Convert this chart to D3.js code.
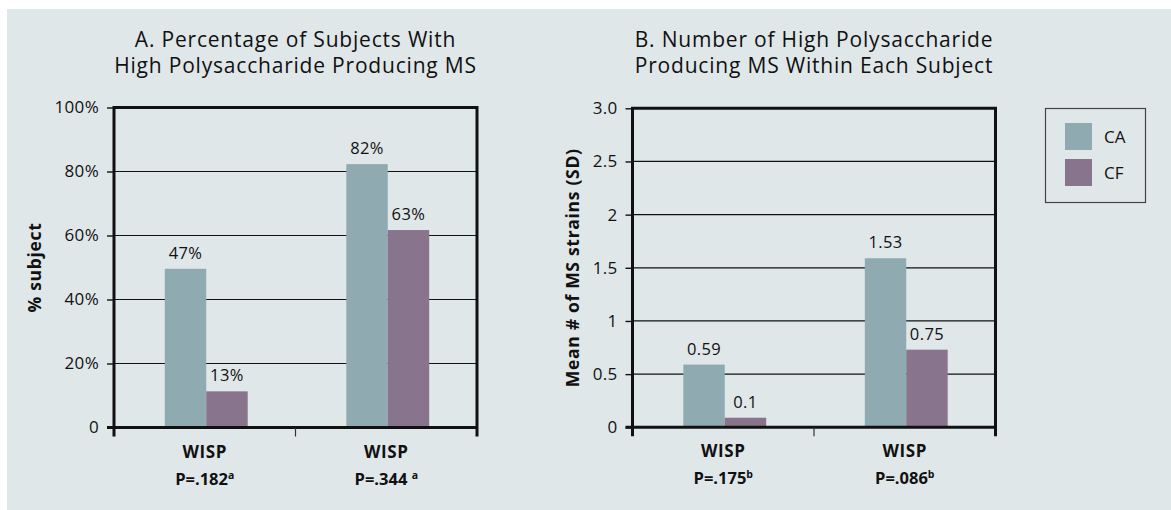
<!DOCTYPE html>
<html><head><meta charset="utf-8">
<script src="https://cdn.jsdelivr.net/npm/d3@7"></script>
<style>
html,body{margin:0;padding:0;background:#fff;}
svg{display:block;}
text{font-family:"Open Sans", Lato, sans-serif;fill:#111;}
</style></head>
<body>
<svg id="c" width="1171" height="510"></svg>
<script>
// ---- data ----
const seriesNames = ["CA", "CF"];
const seriesColors = ["#8fabb1", "#88748c"];
const groupKeys = ["g1", "g2"];
const groupLabels = ["WISP", "WISP"];

const titleA = ["A. Percentage of Subjects With", "High Polysaccharide Producing MS"];
const yTitleA = "% subject";
const yTicksA = [0, 20, 40, 60, 80, 100];
const yTickLabelsA = ["0", "20%", "40%", "60%", "80%", "100%"];
const caA = [49.6, 82.3];
const cfA = [11.3, 61.7];
const caLabelsA = ["47%", "82%"];
const cfLabelsA = ["13%", "63%"];
const pTextA = ["P=.182", "P=.344 "];
const pSupA = ["a", "a"];

const titleB = ["B. Number of High Polysaccharide", "Producing MS Within Each Subject"];
const yTitleB = "Mean # of MS strains (SD)";
const yTicksB = [0, 0.5, 1, 1.5, 2, 2.5, 3];
const yTickLabelsB = ["0", "0.5", "1", "1.5", "2", "2.5", "3.0"];
const caB = [0.59, 1.59];
const cfB = [0.09, 0.73];
const caLabelsB = ["0.59", "1.53"];
const cfLabelsB = ["0.1", "0.75"];
const pTextB = ["P=.175", "P=.086"];
const pSupB = ["b", "b"];

// ---- drawing ----
const svg = d3.select("#c");
svg.append("rect").attr("x", 7).attr("y", 9).attr("width", 1164).attr("height", 501).attr("fill", "#e0e7e9");

const FS = 16.5;

function panel(opt) {
  const {x0, x1, yTop, yBot, domainMax, ticks, tickLabels, ca, cf, caL, cfL, title, yTitle, yTitleX, pText, pSup} = opt;
  const g = svg.append("g");
  const x = d3.scaleBand().domain(groupKeys).range([x0, x1]).paddingInner(0).paddingOuter(0);
  const y = d3.scaleLinear().domain([0, domainMax]).range([yBot, yTop]);
  const xs = d3.scaleBand().domain(seriesNames).range([0, x.bandwidth()]).paddingInner(0).paddingOuter(1.19);

  // grid
  g.append("g").selectAll("line").data(ticks.filter(t => t > 0 && t < domainMax)).join("line")
    .attr("x1", x0).attr("x2", x1).attr("y1", d => y(d)).attr("y2", d => y(d))
    .attr("stroke", "#111").attr("stroke-width", 1.2);

  // bars
  const rows = groupKeys.map((k, i) => ({k, i, vals: [ca[i], cf[i]], labs: [caL[i], cfL[i]]}));
  const gg = g.append("g").selectAll("g").data(rows).join("g").attr("transform", d => `translate(${x(d.k) + 1.5},0)`);
  gg.selectAll("rect").data(d => d.vals.map((v, j) => ({v, j, s: seriesNames[j]}))).join("rect")
    .attr("x", d => xs(d.s)).attr("width", xs.bandwidth())
    .attr("y", d => y(d.v)).attr("height", d => y(0) - y(d.v))
    .attr("fill", d => seriesColors[d.j]);
  gg.selectAll("text.vl").data(d => d.vals.map((v, j) => ({v, j, s: seriesNames[j], l: d.labs[j]}))).join("text")
    .attr("class", "vl")
    .attr("x", d => xs(d.s) + xs.bandwidth() / 2).attr("y", d => y(d.v) - 10)
    .attr("text-anchor", "middle").attr("font-size", FS).attr("letter-spacing", 0.4).text(d => d.l);

  // y axis
  const yAxis = d3.axisLeft(y).tickValues(ticks).tickFormat((d, i) => tickLabels[i]).tickSize(7).tickPadding(8);
  const ya = g.append("g").attr("transform", `translate(${x0},0)`).call(yAxis);
  ya.select(".domain").remove();
  ya.selectAll(".tick line").attr("stroke", "#111").attr("stroke-width", 1.4);
  ya.selectAll(".tick text").attr("font-size", 17).attr("fill", "#111").attr("letter-spacing", 0.3)
    .attr("font-family", "'Open Sans', sans-serif");

  // frame: left, top, right
  g.append("path").attr("d", `M${x0},${yBot + 9} V${yTop} H${x1} V${yBot + 9}`)
    .attr("fill", "none").attr("stroke", "#111").attr("stroke-width", 3);
  // bottom axis
  g.append("line").attr("x1", x0 - 7).attr("x2", x1).attr("y1", yBot).attr("y2", yBot)
    .attr("stroke", "#111").attr("stroke-width", 3);
  groupKeys.slice(1).forEach(k => {
    g.append("line").attr("x1", x(k)).attr("x2", x(k)).attr("y1", yBot).attr("y2", yBot + 9)
      .attr("stroke", "#333").attr("stroke-width", 1.2);
  });

  // x labels
  groupKeys.forEach((k, i) => {
    const cx = x(k) + x.bandwidth() / 2;
    g.append("text").attr("x", cx).attr("y", yBot + 30).attr("text-anchor", "middle")
      .attr("font-size", 17).attr("letter-spacing", 0.6).attr("font-weight", "bold").text(groupLabels[i]);
    const t = g.append("text").attr("x", cx).attr("y", yBot + 57).attr("text-anchor", "middle")
      .attr("font-size", 16.5).attr("font-weight", "bold");
    t.append("tspan").text(pText[i]);
    t.append("tspan").attr("font-size", 10.5).attr("dy", -6).text(pSup[i]);
  });

  // title
  const cx = (x0 + x1) / 2;
  title.forEach((line, i) => {
    g.append("text").attr("x", cx).attr("y", 47 + i * 26).attr("text-anchor", "middle")
      .attr("font-size", 21).attr("letter-spacing", 0.8).text(line);
  });

  // y title
  g.append("text").attr("transform", `translate(${yTitleX},${(yTop + yBot) / 2}) rotate(-90)`)
    .attr("text-anchor", "middle").attr("font-size", 17.5).attr("letter-spacing", 0.7)
    .attr("font-weight", "bold").text(yTitle);
}

panel({x0: 114, x1: 477, yTop: 107.5, yBot: 427.5, domainMax: 100, ticks: yTicksA, tickLabels: yTickLabelsA,
  ca: caA, cf: cfA, caL: caLabelsA, cfL: cfLabelsA, title: titleA, yTitle: yTitleA, yTitleX: 41, pText: pTextA, pSup: pSupA});
panel({x0: 632.5, x1: 995.5, yTop: 108.3, yBot: 427.3, domainMax: 3, ticks: yTicksB, tickLabels: yTickLabelsB,
  ca: caB, cf: cfB, caL: caLabelsB, cfL: cfLabelsB, title: titleB, yTitle: yTitleB, yTitleX: 579, pText: pTextB, pSup: pSupB});

// legend
const lg = svg.append("g");
lg.append("rect").attr("x", 1045.5).attr("y", 108.5).attr("width", 100).attr("height", 94)
  .attr("fill", "none").attr("stroke", "#444").attr("stroke-width", 1.2);
seriesNames.forEach((s, i) => {
  lg.append("rect").attr("x", 1065).attr("y", 123 + i * 36).attr("width", 27).attr("height", 27).attr("fill", seriesColors[i]);
  lg.append("text").attr("x", 1104).attr("y", 142.5 + i * 36).attr("font-size", 17).text(s);
});
</script>
</body></html>
